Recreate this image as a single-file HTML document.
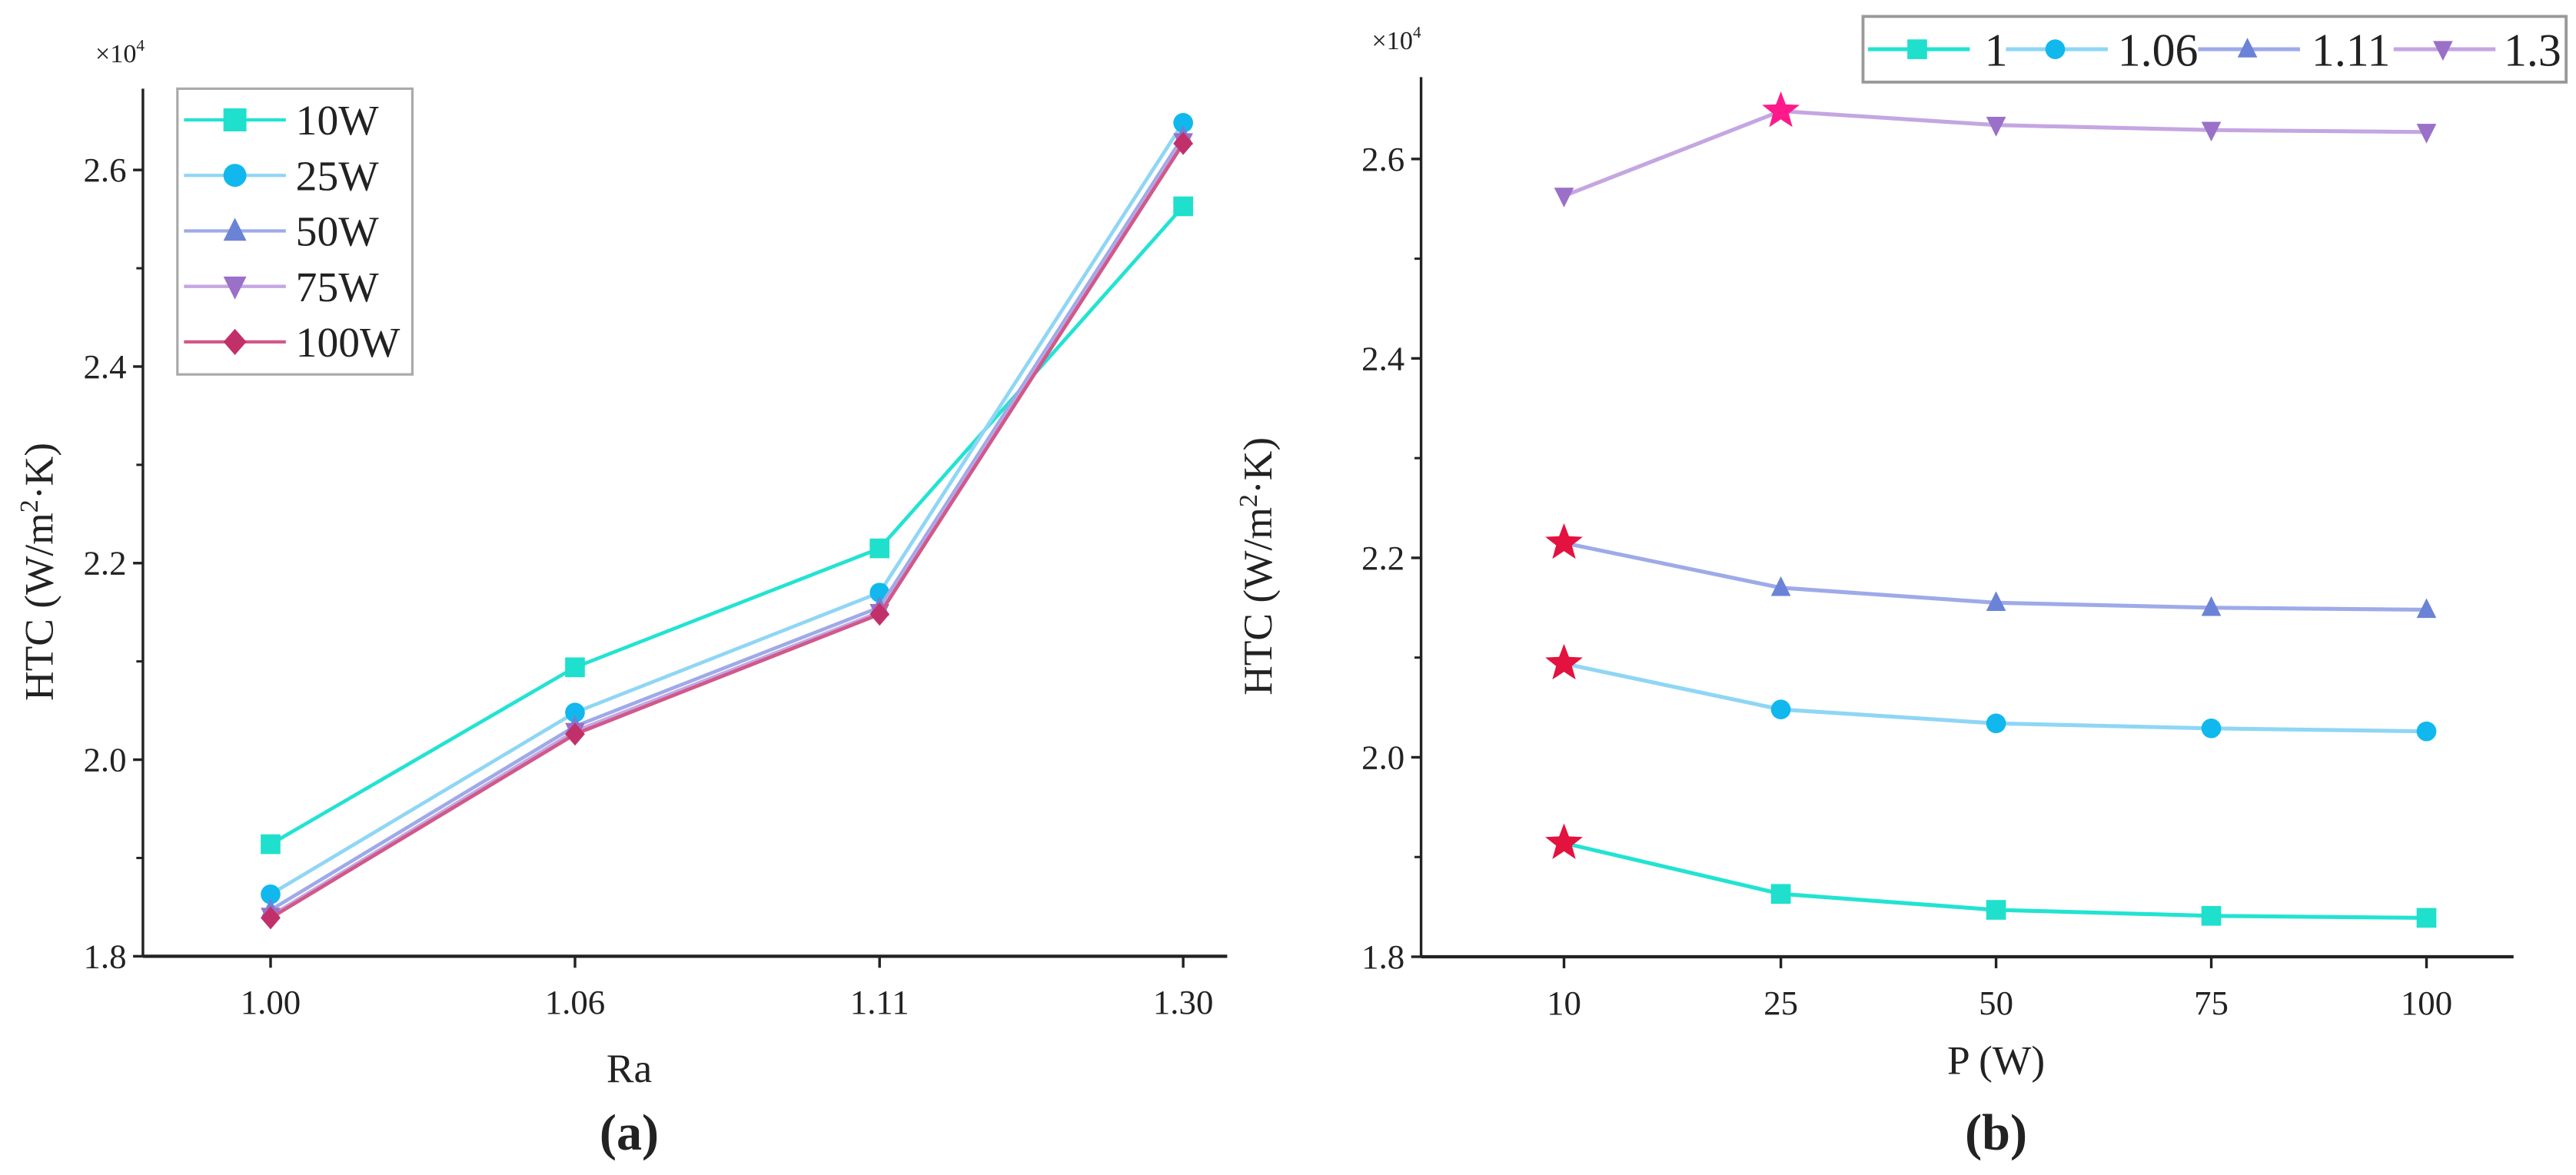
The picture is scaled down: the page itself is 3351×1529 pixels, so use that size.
<!DOCTYPE html>
<html><head><meta charset="utf-8"><style>
html,body{margin:0;padding:0;background:#fff}
svg{display:block}
text{font-family:"Liberation Serif",serif;fill:#222}
</style></head><body>
<svg id="fig" width="3351" height="1529" viewBox="0 0 1568 715.5" preserveAspectRatio="none" xmlns="http://www.w3.org/2000/svg"></svg>
<script>
const raCats=["1.00","1.06","1.11","1.30"];
const powerCats=["10","25","50","75","100"];
const yTicks=[1.8,2.0,2.2,2.4,2.6];
// HTC (x1e4) per Ra, indexed by power 10,25,50,75,100
const ra100=[1.914,1.863,1.847,1.841,1.839];
const ra106=[2.094,2.048,2.034,2.029,2.026];
const ra111=[2.215,2.170,2.155,2.150,2.148];
const ra130=[2.563,2.648,2.634,2.629,2.627];
const powerNames=["10W","25W","50W","75W","100W"];
const raNames=["1","1.06","1.11","1.3"];

const NS="http://www.w3.org/2000/svg";
const svg=document.getElementById('fig');
function mk(tag,attrs,parent){const e=document.createElementNS(NS,tag);for(const k in attrs)e.setAttribute(k,attrs[k]);(parent||svg).appendChild(e);return e;}
function txt(s,attrs,parent){const e=mk('text',attrs,parent);e.textContent=s;return e;}

const pColors=[{l:"#22e3d2",m:"#1ee0cc"},{l:"#8fd6f5",m:"#10b8ee"},{l:"#9eaae8",m:"#6b83d6"},{l:"#c4a6e2",m:"#9a70c8"},{l:"#d2588a",m:"#c2306a"}];
const rColors=[pColors[0],pColors[1],pColors[2],pColors[3]];
const shapes=["square","circle","up","down","diamond"];

function marker(g,shape,x,y,c,s){
  s=s||6;
  if(shape==="square")return mk('rect',{x:x-s,y:y-s,width:2*s,height:2*s,fill:c},g);
  if(shape==="circle")return mk('circle',{cx:x,cy:y,r:s,fill:c},g);
  if(shape==="up")return mk('polygon',{points:`${x},${y-s-1} ${x-s},${y+s-1} ${x+s},${y+s-1}`,fill:c},g);
  if(shape==="down")return mk('polygon',{points:`${x-s},${y-s+1} ${x+s},${y-s+1} ${x},${y+s+1}`,fill:c},g);
  if(shape==="diamond")return mk('polygon',{points:`${x},${y-s-1} ${x+s},${y} ${x},${y+s+1} ${x-s},${y}`,fill:c},g);
}
function star(g,x,y,r,c){
  let p=[];for(let i=0;i<10;i++){const a=-Math.PI/2+i*Math.PI/5;const rr=i%2?r*0.42:r;p.push((x+rr*Math.cos(a)).toFixed(1)+","+(y+rr*Math.sin(a)).toFixed(1));}
  return mk('polygon',{points:p.join(" "),fill:c},g);
}

function axes(g,o){
  mk('line',{x1:o.x0,y1:o.yTop,x2:o.x0,y2:o.yBot,stroke:"#222","stroke-width":1.6},g);
  mk('line',{x1:o.x0,y1:o.yBot,x2:o.x1,y2:o.yBot,stroke:"#222","stroke-width":2},g);
  yTicks.forEach((v,i)=>{const y=o.Y(v);
    const t=mk('line',{x1:o.x0-6,y1:y,x2:o.x0,y2:y,stroke:"#222","stroke-width":1.6},g);
    
    const l=txt(v.toFixed(1),{x:o.x0-10,y:y+7,'font-size':21,'text-anchor':'end'},g);
    
    if(i<yTicks.length-1){const ym=o.Y(v+0.1);mk('line',{x1:o.x0-4,y1:ym,x2:o.x0,y2:ym,stroke:"#222","stroke-width":1.4},g);}
  });
  o.cats.forEach((c,i)=>{const x=o.X(i);
    mk('line',{x1:x,y1:o.yBot,x2:x,y2:o.yBot+7,stroke:"#222","stroke-width":1.6},g);
    const l=txt(c,{x:x,y:o.yBot+35,'font-size':21,'text-anchor':'middle'},g);
    
  });
  const yl=txt("",{transform:`translate(${o.yl},${(o.yTop+o.yBot)/2+30}) rotate(-90)`,'font-size':25,'text-anchor':'middle'},g);
  yl.innerHTML='HTC (W/m<tspan dy="-9" font-size="16">2</tspan><tspan dy="9">·K)</tspan>';
  
  const ex=txt("",{x:o.exx,y:o.exy,'font-size':16},g);
  ex.innerHTML='×10<tspan dy="-7" font-size="10">4</tspan>';
  
}

// ---- Panel (a)
const A={x0:87,x1:747,yTop:54,yBot:582.3,cats:raCats,yl:32,exx:58,exy:38};
A.Y=v=>582.3-(v-1.8)/0.2*119.7;
A.X=i=>[164.7,350,535.4,720.2][i];
const ga=mk('g',{});
axes(ga,A);
const raSeries=[ra100,ra106,ra111,ra130];
powerNames.forEach((n,pi)=>{
  const g=mk('g',{},ga);
  const pts=raSeries.map((s,ri)=>[A.X(ri),A.Y(s[pi])]);
  mk('polyline',{points:pts.map(p=>p.join(",")).join(" "),fill:"none",stroke:pColors[pi].l,'stroke-width':2.2},g);
  pts.forEach(p=>{const m=marker(g,shapes[pi],p[0],p[1],pColors[pi].m);});
});
const lga=mk('g',{},ga);
mk('rect',{x:108,y:54,width:143,height:174,fill:"#fff",stroke:"#aaa","stroke-width":1.5},lga);
powerNames.forEach((n,pi)=>{const y=73+pi*33.8;
  const e=mk('g',{},lga);
  mk('line',{x1:112,y1:y,x2:174,y2:y,stroke:pColors[pi].l,'stroke-width':2},e);
  marker(e,shapes[pi],143,y,pColors[pi].m,7);
  txt(n,{x:180,y:y+9,'font-size':26},e);
});
const ra=txt("Ra",{x:383,y:659,'font-size':25,'text-anchor':'middle'},ga);
const la=txt("(a)",{x:383,y:700,'font-size':31,'font-weight':'bold','text-anchor':'middle'},ga);

// ---- Panel (b)
const B={x0:865,x1:1530,yTop:47,yBot:582.6,cats:powerCats,yl:774,exx:835,exy:30};
B.Y=v=>582.6-(v-1.8)/0.2*121.45;
B.X=i=>[952,1084,1215,1346,1477][i];
const gb=mk('g',{});
axes(gb,B);
const starIdx=[0,0,0,1];
const starCol=["#e3123f","#e3123f","#e3123f","#ff1a8c"];
raSeries.forEach((s,ri)=>{
  const g=mk('g',{},gb);
  const pts=s.map((v,i)=>[B.X(i),B.Y(v)]);
  mk('polyline',{points:pts.map(p=>p.join(",")).join(" "),fill:"none",stroke:rColors[ri].l,'stroke-width':2.4},g);
  pts.forEach((p,i)=>{
    let m;
    if(i===starIdx[ri]) m=star(g,p[0],p[1],12,starCol[ri]);
    else m=marker(g,shapes[ri],p[0],p[1],rColors[ri].m);
    
  });
});
const lgb=mk('g',{},gb);
mk('rect',{x:1134,y:10,width:428,height:40,fill:"#fff",stroke:"#999","stroke-width":1.8},lgb);
const lx=[1137,1221,1338,1457],tx=[1208,1289,1407,1524];
raNames.forEach((n,ri)=>{const y=30;
  const e=mk('g',{},lgb);
  mk('line',{x1:lx[ri],y1:y,x2:lx[ri]+62,y2:y,stroke:rColors[ri].l,'stroke-width':2.4},e);
  marker(e,shapes[ri],lx[ri]+30,y,rColors[ri].m,6);
  txt(n,{x:tx[ri],y:y+10,'font-size':28},e);
});
const pw=txt("P (W)",{x:1215,y:654,'font-size':25,'text-anchor':'middle'},gb);
const lb=txt("(b)",{x:1215,y:700,'font-size':31,'font-weight':'bold','text-anchor':'middle'},gb);
</script>
</body></html>
